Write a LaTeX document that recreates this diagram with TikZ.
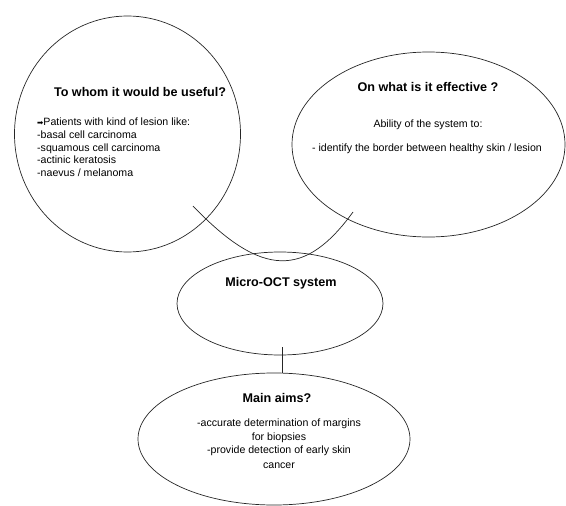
\documentclass[tikz,border=0pt]{standalone}
\usepackage{fontspec}
\setmainfont{Liberation Sans}
\newfontfamily\dejavu{DejaVu Sans}
\usetikzlibrary{shapes.geometric}
\begin{document}
\begin{tikzpicture}[x=1pt,y=-1pt,
  bubble/.style={draw=black!85,line width=0.7pt,ellipse,inner sep=0pt},
  title/.style={font=\bfseries\fontsize{12.6}{14}\selectfont,inner sep=0pt},
  body/.style={font=\fontsize{10.6}{12.7}\selectfont,inner sep=0pt},
  link/.style={draw=black!85,line width=0.7pt}]
\useasboundingbox (0,0) rectangle (566,506);
% ellipses
\node[bubble,minimum width=226pt,minimum height=236pt] (who) at (127.5,134) {};
\node[bubble,minimum width=273pt,minimum height=185pt] (what) at (428.5,144.5) {};
\node[bubble,minimum width=206pt,minimum height=103pt] (oct) at (280,303.5) {};
\node[bubble,minimum width=272pt,minimum height=132pt] (main) at (274,439) {};
% texts
\node[title] (whoT) at (140,92) {To whom it would be useful?};
\node[body,align=left,anchor=north west] (whoB) at (37,118) {{\dejavu\fontsize{7.5}{12.7}\selectfont ➡}Patients with kind of lesion like:\\-basal cell carcinoma\\-squamous cell carcinoma\\-actinic keratosis\\-naevus / melanoma};
\node[title] (whatT) at (428,87) {On what is it effective ?};
\node[body] (whatB1) at (428,125) {Ability of the system to:};
\node[body] (whatB2) at (427,149) {- identify the border between healthy skin / lesion};
\node[title] (octT) at (281,283) {Micro-OCT system};
\node[title] (mainT) at (277,398) {Main aims?};
\node[body,align=center,anchor=north,font=\fontsize{10.6}{13.2}\selectfont] (mainB) at (279,419) {-accurate determination of margins\\for biopsies\\-provide detection of early skin\\[2.5pt]cancer};
% connectors
\coordinate (c1) at (193,206);
\coordinate (c2) at (353,212);
\draw[link] (c1) .. controls (262,278) and (305,278) .. (c2);
\coordinate (l1) at (282,347);
\draw[link] (l1) -- (l1 |- main.north);
\end{tikzpicture}
\end{document}
